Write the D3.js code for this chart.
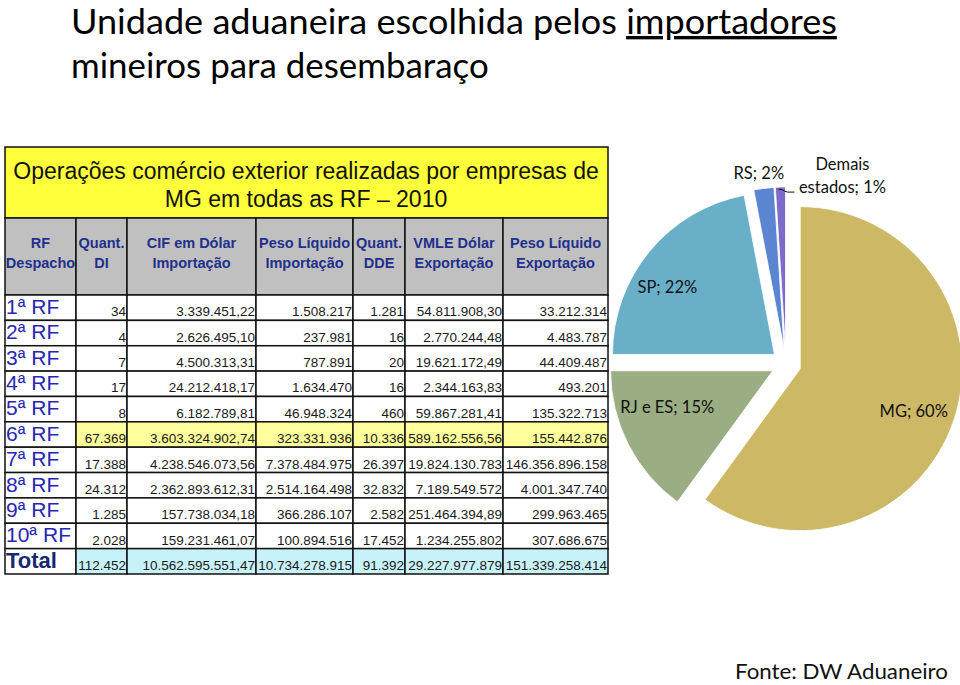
<!DOCTYPE html>
<meta charset="utf-8">
<style>
  body { margin: 0; background: #fff; }
  text { font-family: "Liberation Sans", Arial, sans-serif; }
  .cal { font-family: Lato, "Open Sans", sans-serif; }
</style>
<svg width="960" height="685"></svg>
<script src="https://cdn.jsdelivr.net/npm/d3@7"></script>
<script>

// ---- data ----
var regions = ["1ª RF", "2ª RF", "3ª RF", "4ª RF", "5ª RF", "6ª RF", "7ª RF", "8ª RF", "9ª RF", "10ª RF", "Total"];
var headers = [["RF", "Despacho"], ["Quant.", "DI"], ["CIF em Dólar", "Importação"], ["Peso Líquido", "Importação"],
               ["Quant.", "DDE"], ["VMLE Dólar", "Exportação"], ["Peso Líquido", "Exportação"]];
var quantDI = ["34", "4", "7", "17", "8", "67.369", "17.388", "24.312", "1.285", "2.028", "112.452"];
var cifImport = ["3.339.451,22", "2.626.495,10", "4.500.313,31", "24.212.418,17", "6.182.789,81", "3.603.324.902,74",
                 "4.238.546.073,56", "2.362.893.612,31", "157.738.034,18", "159.231.461,07", "10.562.595.551,47"];
var pesoImport = ["1.508.217", "237.981", "787.891", "1.634.470", "46.948.324", "323.331.936",
                  "7.378.484.975", "2.514.164.498", "366.286.107", "100.894.516", "10.734.278.915"];
var quantDDE = ["1.281", "16", "20", "16", "460", "10.336", "26.397", "32.832", "2.582", "17.452", "91.392"];
var vmleExport = ["54.811.908,30", "2.770.244,48", "19.621.172,49", "2.344.163,83", "59.867.281,41", "589.162.556,56",
                  "19.824.130.783", "7.189.549.572", "251.464.394,89", "1.234.255.802", "29.227.977.879"];
var pesoExport = ["33.212.314", "4.483.787", "44.409.487", "493.201", "135.322.713", "155.442.876",
                  "146.356.896.158", "4.001.347.740", "299.963.465", "307.686.675", "151.339.258.414"];

var states = ["MG", "RJ e ES", "SP", "RS", "Demais estados"];
var shares = [60, 15, 22, 2, 1];
var stateColors = ["#cdb866", "#9bad82", "#6aafc8", "#5b85d1", "#7d6bcb"];

// ---- page ----
var svg = d3.select("svg");

// squeeze a calibri-ish line to the width it has in the slide
function fit(sel, x, y, w) {
  var n = sel.node().getComputedTextLength();
  sel.attr("transform", "translate(" + x + "," + y + ") scale(" + (w / n) + ",1)");
  return sel;
}

var t1 = svg.append("text").attr("class", "cal").attr("font-size", 34);
t1.append("tspan").text("Unidade aduaneira escolhida pelos ");
t1.append("tspan").attr("text-decoration", "underline").text("importadores");
fit(t1, 71, 34, 766);
fit(svg.append("text").attr("class", "cal").attr("font-size", 34).text("mineiros para desembaraço"), 71, 78, 418);

// ---- table ----
var colEdges = [5, 76, 127, 256, 353, 405, 503, 608];
var columns = [quantDI, cifImport, pesoImport, quantDDE, vmleExport, pesoExport];

var y = d3.scaleBand().domain(regions).range([295, 574]);

// yellow caption box
svg.append("rect").attr("x", 5).attr("y", 147).attr("width", 603).attr("height", 71)
    .attr("fill", "#ffff3c").attr("stroke", "#111").attr("stroke-width", 1.5);
svg.append("text").attr("x", 306).attr("y", 179).attr("text-anchor", "middle")
    .attr("font-size", 23).attr("fill", "#111")
    .text("Operações comércio exterior realizadas por empresas de");
svg.append("text").attr("x", 306).attr("y", 207).attr("text-anchor", "middle")
    .attr("font-size", 23).attr("fill", "#111")
    .text("MG em todas as RF – 2010");

// header row
var hdr = svg.append("g");
headers.forEach(function(h, i) {
  hdr.append("rect").attr("x", colEdges[i]).attr("y", 218)
      .attr("width", colEdges[i + 1] - colEdges[i]).attr("height", 77)
      .attr("fill", "#c0c0c0").attr("stroke", "#111").attr("stroke-width", 1.5);
  h.forEach(function(line, j) {
    hdr.append("text").attr("x", (colEdges[i] + colEdges[i + 1]) / 2).attr("y", 248 + j * 20)
        .attr("text-anchor", "middle").attr("font-size", 14.5).attr("font-weight", "bold")
        .attr("fill", "#22308c").text(line);
  });
});

// body rows
var rows = svg.append("g").selectAll("g").data(regions).enter().append("g")
    .attr("transform", function(d) { return "translate(0," + y(d) + ")"; });

rows.each(function(region, r) {
  var g = d3.select(this);
  var total = region == "Total";
  var fill = total ? "#c8f2fa" : region == "6ª RF" ? "#ffff9c" : "#fff";
  g.append("rect").attr("x", colEdges[0]).attr("width", colEdges[1] - colEdges[0])
      .attr("height", y.bandwidth()).attr("fill", "#fff").attr("stroke", "#111").attr("stroke-width", 1.5);
  g.append("text").attr("x", colEdges[0] + 1).attr("y", 19)
      .attr("font-size", total ? 22 : 21)
      .attr("font-weight", total ? "bold" : null)
      .attr("fill", total ? "#17286e" : "#2727b4")
      .text(region);
  columns.forEach(function(col, c) {
    g.append("rect").attr("x", colEdges[c + 1]).attr("width", colEdges[c + 2] - colEdges[c + 1])
        .attr("height", y.bandwidth()).attr("fill", fill).attr("stroke", "#111").attr("stroke-width", 1.5);
    g.append("text").attr("x", colEdges[c + 2] - 1).attr("y", y.bandwidth() - 4)
        .attr("text-anchor", "end").attr("font-size", 13.5).attr("fill", "#1a1a1a")
        .text(col[r]);
  });
});

// ---- pie ----
var cx = 786, cy = 364, radius = 162, explode = 15;

var pie = d3.pie().sort(null).value(function(d) { return d; });
var arcs = pie(shares);
var arc = d3.arc().innerRadius(0).outerRadius(radius);
var labelArc = d3.arc().innerRadius(0).outerRadius(radius * 1.46);
// excel's "best fit" pulls the inside labels a bit off the centroid
var nudge = [[1, 6], [0, -17], [-16, 8]];

var pg = svg.append("g").attr("transform", "translate(" + cx + "," + cy + ")");

function shift(d) {
  var a = (d.startAngle + d.endAngle) / 2;
  return [Math.sin(a) * explode, -Math.cos(a) * explode];
}

var slices = pg.selectAll("g.slice").data(arcs).enter().append("g")
    .attr("class", "slice")
    .attr("transform", function(d) { var s = shift(d); return "translate(" + s[0] + "," + s[1] + ")"; });

slices.append("path").attr("d", arc)
    .attr("fill", function(d, i) { return stateColors[i]; })
    .attr("stroke", "#fff").attr("stroke-width", 0.8);

// inside labels for the big slices
slices.filter(function(d) { return d.data >= 10; }).append("text")
    .attr("class", "cal").attr("font-size", 16.5).attr("fill", "#111")
    .attr("text-anchor", "middle")
    .attr("transform", function(d) {
      var c = labelArc.centroid(d), n = nudge[d.index];
      return "translate(" + (c[0] + n[0]) + "," + (c[1] + 6 + n[1]) + ")";
    })
    .text(function(d) { return states[d.index] + "; " + d.data + "%"; });

// RS label above its slice
var rsOut = d3.arc().innerRadius(0).outerRadius(radius * 2.2).centroid(arcs[3]);
slices.filter(function(d) { return d.index == 3; }).append("text")
    .attr("class", "cal").attr("font-size", 16.5).attr("fill", "#111")
    .attr("text-anchor", "middle")
    .attr("x", rsOut[0] - 3).attr("y", rsOut[1] + 7)
    .text(states[3] + "; " + shares[3] + "%");

// Demais estados label with leader line
var de = arcs[4];
var a4 = (de.startAngle + de.endAngle) / 2;
var edge = [Math.sin(a4) * radius, -Math.cos(a4) * radius];
var dg = slices.filter(function(d) { return d.index == 4; });
dg.append("path")
    .attr("d", "M" + (edge[0] - 2) + "," + (edge[1] + 2) + " q4,0 6,2 l3,1 h7")
    .attr("fill", "none").attr("stroke", "#111").attr("stroke-width", 1);
dg.append("text").attr("class", "cal").attr("font-size", 16.5).attr("fill", "#111")
    .attr("text-anchor", "middle")
    .attr("x", edge[0] + 62).attr("y", edge[1] - 17)
    .text("Demais");
dg.append("text").attr("class", "cal").attr("font-size", 16.5).attr("fill", "#111")
    .attr("text-anchor", "middle")
    .attr("x", edge[0] + 62).attr("y", edge[1] + 6)
    .text("estados; " + shares[4] + "%");

// source note
fit(svg.append("text").attr("class", "cal").attr("font-size", 21).attr("fill", "#111")
    .text("Fonte:  DW Aduaneiro"), 735, 679, 213);

</script>
